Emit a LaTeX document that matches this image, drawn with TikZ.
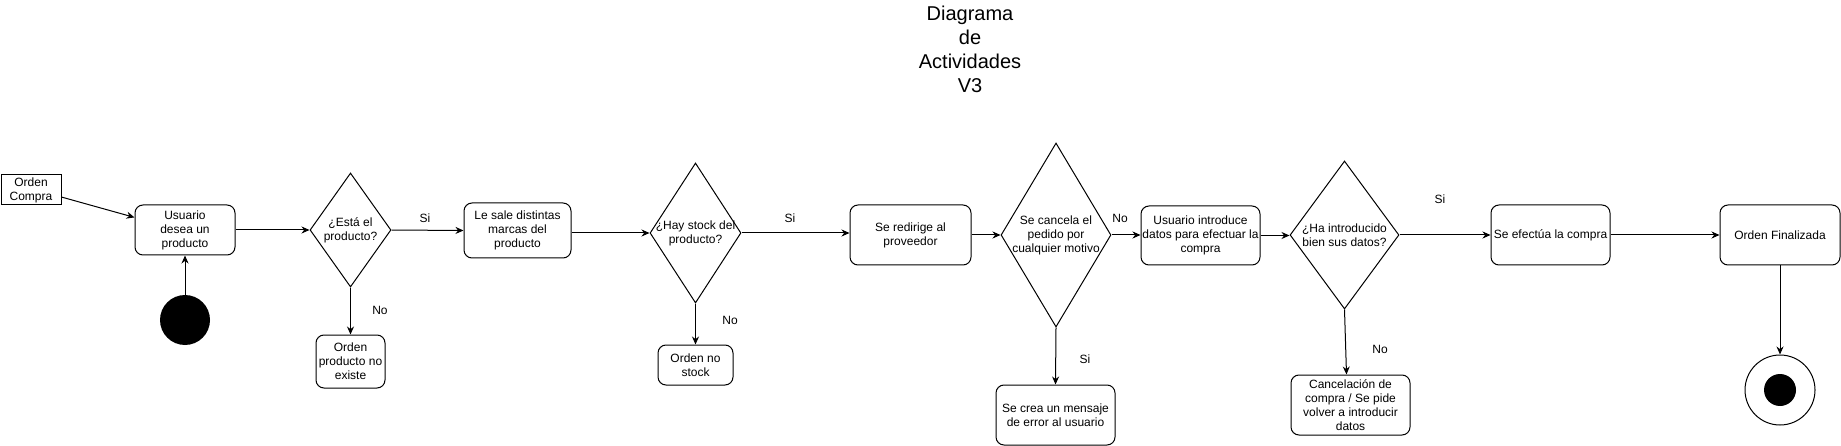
\documentclass[tikz,border=0pt]{standalone}
\usepackage{fontspec}
\setmainfont{Liberation Sans}
\usetikzlibrary{shapes.geometric,arrows.meta}

\tikzset{every picture/.style={line width=1pt}}
\tikzset{
  activity/.style={draw, rounded corners=8pt, align=center, inner sep=0pt, font=\fontsize{12}{14}\selectfont},
  plainbox/.style={draw, align=center, inner sep=0pt, font=\fontsize{12}{14}\selectfont},
  decision/.style={draw, diamond, inner sep=0pt},
  guard/.style={align=center, inner sep=0.75pt, font=\fontsize{12}{14}\selectfont},
  flow/.style={-{Stealth[length=8pt,width=7pt]}},
}

\begin{document}
\begin{tikzpicture}[x=1pt,y=1pt,yscale=-1,xscale=1]
\useasboundingbox (0,0) rectangle (1841,446);

% Title
\node[align=center, font=\fontsize{20}{24}\selectfont] (titulo) at (970,49) {Diagrama\\de\\Actividades\\V3};

% Nodes
\node[plainbox, minimum width=60pt, minimum height=30pt] (ordencompra) at (31,190) {Orden\\Compra};
\node[activity, minimum width=100pt, minimum height=50pt] (usuario) at (185,230) {Usuario\\desea un\\producto};
\node[circle, fill, minimum size=50pt, inner sep=0pt] (inicio) at (185,320) {};
\node[decision, minimum width=81pt, minimum height=114pt] (esta) at (350.5,230) {};
\node[guard] (esta-txt) at (esta) {¿Está el\\producto?};
\node[activity, minimum width=69pt, minimum height=53pt] (noexiste) at (350.5,361.5) {Orden\\producto no\\existe};
\node[activity, minimum width=107pt, minimum height=55pt] (marcas) at (517.5,230.5) {Le sale distintas\\marcas del\\producto};
\node[decision, minimum width=91pt, minimum height=140pt] (stock) at (695.5,233) {};
\node[guard] (stock-txt) at (stock) {¿Hay stock del\\producto?};
\node[activity, minimum width=75pt, minimum height=40pt] (nostock) at (695.5,365) {Orden no\\stock};
\node[activity, minimum width=121pt, minimum height=60pt] (redirige) at (910.5,235) {Se redirige al\\proveedor};
\node[decision, minimum width=110pt, minimum height=184pt] (cancela) at (1056,235) {};
\node[guard] (cancela-txt) at (cancela) {Se cancela el\\pedido por\\cualquier motivo};
\node[activity, minimum width=119pt, minimum height=60pt] (error) at (1055.5,415) {Se crea un mensaje\\de error al usuario};
\node[activity, minimum width=119pt, minimum height=59pt] (introduce) at (1200.5,235.5) {Usuario introduce\\datos para efectuar la\\compra};
\node[decision, minimum width=109pt, minimum height=148pt] (datos) at (1344.5,235) {};
\node[guard] (datos-txt) at (datos) {¿Ha introducido\\bien sus datos?};
\node[activity, minimum width=119pt, minimum height=60pt] (cancelacion) at (1350.5,405) {Cancelación de\\compra / Se pide\\volver a introducir\\datos};
\node[activity, minimum width=119pt, minimum height=60pt] (efectua) at (1550.5,235) {Se efectúa la compra};
\node[activity, minimum width=120pt, minimum height=60pt] (finalizada) at (1780,235) {Orden Finalizada};
\node[circle, draw, minimum size=70pt, inner sep=0pt] (fin) at (1780,390) {};
\node[circle, fill, minimum size=32pt, inner sep=0pt] (fin-core) at (fin) {};

% Connectors
\draw[flow] (ordencompra.-13) -- (usuario.166);
\draw[flow] (inicio.north) -- (usuario.south);
\draw[flow] (usuario.east) -- (esta.west);
\draw[flow] (esta.south) -- (noexiste.north);
\draw[flow] (esta.east) -- (marcas.west);
\draw[flow] (marcas.east |- stock.west) -- (stock.west);
\draw[flow] (stock.south) -- (nostock.north);
\draw[flow] (stock.east) -- (stock.east -| redirige.west);
\draw[flow] (redirige.east) -- (cancela.west);
\draw[flow] (cancela.south) -- (error.north);
\draw[flow] (cancela.east) -- (cancela.east -| introduce.west);
\draw[flow] (introduce.east) -- (introduce.east -| datos.west);
\draw[flow] (datos.south) -- ([xshift=-4pt]cancelacion.north);
\draw[flow] (datos.east) -- (efectua.west);
\draw[flow] (efectua.east) -- (finalizada.west);
\draw[flow] (finalizada.south) -- (fin.north);

% Text Node
\node[guard] (si-esta) at (425,218) {Si};
% Text Node
\node[guard] (no-esta) at (380,310) {No};
% Text Node
\node[guard] (si-stock) at (790,218) {Si};
% Text Node
\node[guard] (no-stock) at (730,320) {No};
% Text Node
\node[guard] (no-cancela) at (1120,218) {No};
% Text Node
\node[guard] (si-cancela) at (1085,359) {Si};
% Text Node
\node[guard] (si-datos) at (1440,199) {Si};
% Text Node
\node[guard] (no-datos) at (1380,349) {No};
\end{tikzpicture}
\end{document}
